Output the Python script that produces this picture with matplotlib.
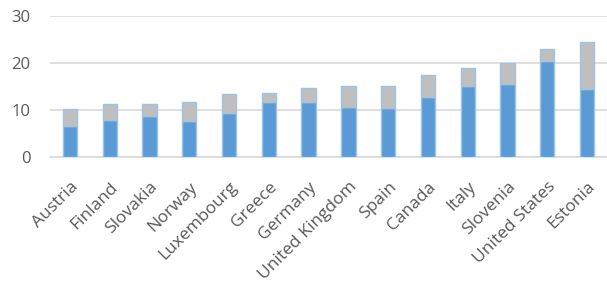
import matplotlib
matplotlib.use("Agg")
import matplotlib.pyplot as plt
import numpy as np

countries = ["Austria", "Finland", "Slovakia", "Norway", "Luxembourg", "Greece",
             "Germany", "United Kingdom", "Spain", "Canada", "Italy", "Slovenia",
             "United States", "Estonia"]
# lower (blue) part and total height of each bar
blue = [6.6, 7.9, 8.7, 7.6, 9.2, 11.7, 11.7, 10.6, 10.3, 12.8, 15.1, 15.5, 20.4, 14.4]
total = [10.2, 11.2, 11.2, 11.6, 13.3, 13.6, 14.7, 15.0, 15.0, 17.4, 18.8, 19.9, 22.9, 24.3]
grey = [t - b for t, b in zip(total, blue)]

plt.rcParams['font.family'] = ['Open Sans', 'DejaVu Sans']

fig = plt.figure(figsize=(6.07, 2.87), dpi=100)
ax = fig.add_axes([50/607, 1 - 156.7/287, 557/607, (156.7 - 15.7)/287])

x = np.arange(len(countries))
w = 0.36
ax.bar(x, blue, width=w, color='#5B9BD5', edgecolor='#9DC3E6', linewidth=1.0, zorder=3)
ax.bar(x, grey, width=w, bottom=blue, color='#BFBFBF', edgecolor='#9DC3E6', linewidth=1.0, zorder=3)

ax.set_xlim(-0.5, len(countries) - 0.5)
ax.set_ylim(0, 30)
ax.set_yticks([0, 10, 20, 30])
ax.yaxis.grid(True, color='#D9D9D9', linewidth=1.2, zorder=0)
ax.set_axisbelow(True)
for s in ['top', 'right', 'left']:
    ax.spines[s].set_visible(False)
ax.spines['bottom'].set_color('#D9D9D9')
ax.spines['bottom'].set_linewidth(1.2)

ax.tick_params(axis='both', length=0, colors='#595959')
ax.tick_params(axis='y', pad=14, labelsize=12)
ax.tick_params(axis='x', pad=16, labelsize=12.5)
ax.set_xticks(x)
ax.set_xticklabels(countries, rotation=45, ha='right', rotation_mode='anchor')

fig.savefig("out.png", dpi=100)
